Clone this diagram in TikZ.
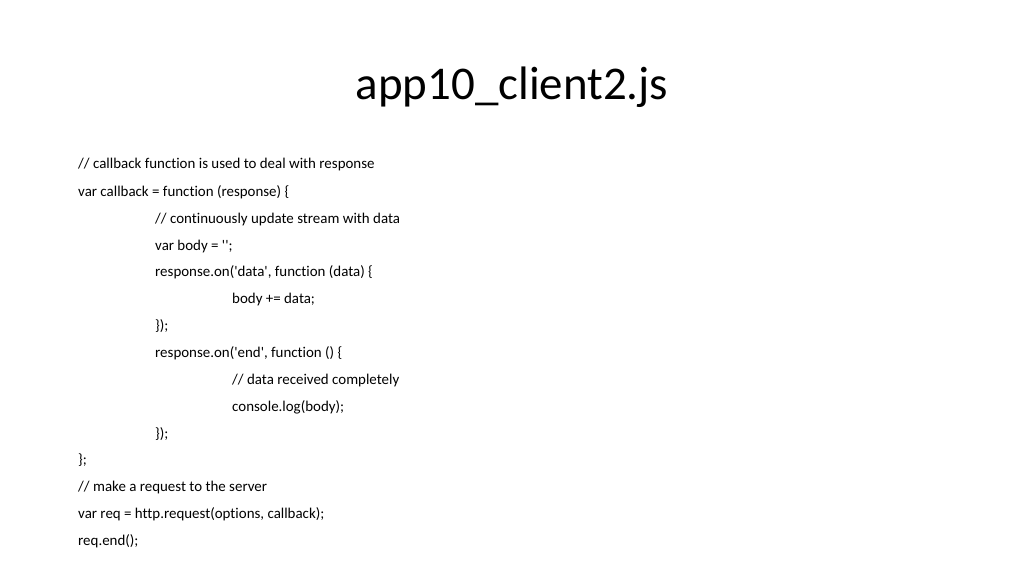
\documentclass[tikz,border=0pt]{standalone}
\usepackage{fontspec}
\setmainfont{Carlito}[Ligatures={TeXOff,NoCommon}]
\begin{document}
\begin{tikzpicture}[x=0.9375pt,y=-0.9375pt,
  codeline/.style={anchor=base west,inner sep=0pt,font=\fontsize{14}{16}\selectfont},
  titletext/.style={anchor=base,inner sep=0pt,font=\fontsize{44}{50}\selectfont}]
\useasboundingbox (0,0) rectangle (1024,576);
\node[titletext] at (512, 100) (title) {app10\_client2.js};
\node[codeline] at (78, 169) (c1) {// callback function is used to deal with response};
\node[codeline] at (78, 196) (c2) {var callback = function (response) \{};
\node[codeline] at (155, 223) (c3) {// continuously update stream with data};
\node[codeline] at (155, 250) (c4) {var body = '';};
\node[codeline] at (155, 276) (c5) {response.on('data', function (data) \{};
\node[codeline] at (232, 303) (c6) {body += data;};
\node[codeline] at (155, 330) (c7) {\});};
\node[codeline] at (155, 357) (c8) {response.on('end', function () \{};
\node[codeline] at (232, 384) (c9) {// data received completely};
\node[codeline] at (232, 411) (c10) {console.log(body);};
\node[codeline] at (155, 438) (c11) {\});};
\node[codeline] at (78, 464) (c12) {\};};
\node[codeline] at (78, 491) (c13) {// make a request to the server};
\node[codeline] at (78, 518) (c14) {var req = http.request(options, callback);};
\node[codeline] at (78, 545) (c15) {req.end();};
\end{tikzpicture}
\end{document}
